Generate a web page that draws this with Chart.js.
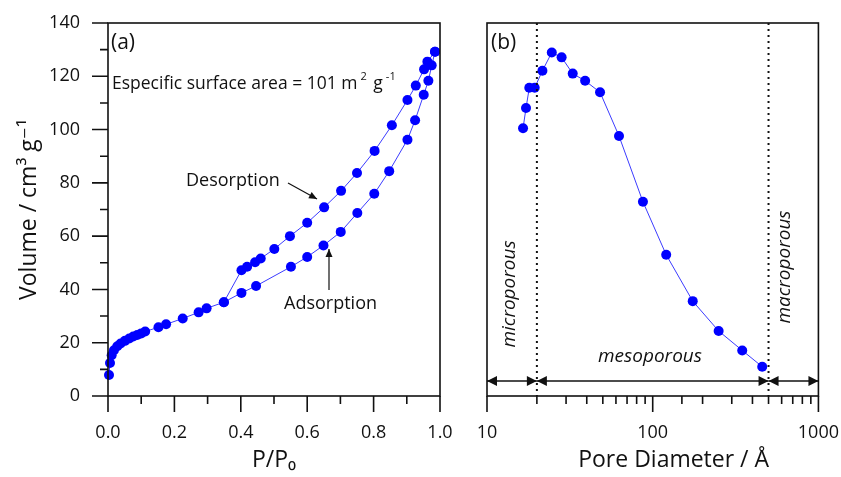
<!DOCTYPE html>
<html lang="en">
<head>
<meta charset="UTF-8">
<title>N2 isotherm and pore size distribution</title>
<script src="https://cdn.jsdelivr.net/npm/chart.js@4.4.0/dist/chart.umd.min.js"></script>
<style>
  html, body { margin: 0; padding: 0; background: #fff; }
  .wrap { position: relative; width: 841px; height: 477px; }
  #iso { position: absolute; left: 0; top: 0; }
  #pore { position: absolute; left: 460px; top: 0; }
</style>
</head>
<body>
<div class="wrap">
  <canvas id="iso" width="460" height="477"></canvas>
  <canvas id="pore" width="381" height="477"></canvas>
</div>
<script>
const FONT = "'Open Sans', 'DejaVu Sans', sans-serif";
const BLUE = '#0000ff';
const LINE = '#3b3bff';
const INK = '#111111';

// (a) isotherm, P/P0 vs volume
const adsP = [0.003, 0.006, 0.011, 0.018, 0.028, 0.038, 0.051, 0.064, 0.076, 0.088, 0.100, 0.112,
              0.152, 0.175, 0.225, 0.273, 0.297, 0.349, 0.402, 0.446, 0.551, 0.600, 0.649, 0.701,
              0.751, 0.802, 0.847, 0.902, 0.925, 0.951, 0.965, 0.975, 0.985];
const adsV = [7.9, 12.4, 15.3, 17.2, 18.7, 19.7, 20.7, 21.6, 22.3, 22.9, 23.5, 24.2,
              25.8, 26.9, 29.1, 31.4, 32.9, 35.2, 38.7, 41.3, 48.5, 52.2, 56.5, 61.6,
              68.7, 75.9, 84.4, 96.2, 103.5, 113.1, 118.3, 124.1, 129.2];
const desP = [0.985, 0.962, 0.952, 0.927, 0.902, 0.855, 0.803, 0.750, 0.702, 0.651, 0.600, 0.548,
              0.501, 0.460, 0.443, 0.419, 0.402, 0.349];
const desV = [129.2, 125.5, 122.6, 116.5, 111.1, 101.6, 92.0, 83.7, 77.0, 70.8, 65.0, 60.0,
              55.2, 51.6, 50.2, 48.5, 47.2, 35.2];
const isoXTicks = [0, 0.2, 0.4, 0.6, 0.8, 1.0];
const isoYTicks = [0, 20, 40, 60, 80, 100, 120, 140];

// (b) pore size distribution
const poreD = [16.5, 17.2, 18.0, 19.4, 21.6, 24.6, 28.2, 32.9, 39.1, 48.1, 62.6, 87.3,
               120.6, 174.4, 250, 347, 458];
const poreV = [100.5, 108.1, 115.7, 115.7, 122.1, 128.9, 127.1, 121.0, 118.3, 114.0, 97.6, 72.9,
               53.0, 35.6, 24.4, 17.1, 11.0];
const poreTicks = [10, 100, 1000];
const poreBounds = [10, 20, 500, 1000];

const near = (v, list) => list.some(t => Math.abs(t - v) < 1e-6);
const pts = (xs, ys) => xs.map((x, i) => ({x: x, y: ys[i]}));

function makeFrame(xMajor, yMajor) {
  return {
    id: 'frame',
    afterDraw(chart) {
      const {ctx, chartArea: a, scales} = chart;
      ctx.save();
      ctx.strokeStyle = INK;
      ctx.lineWidth = 1.6;
      ctx.strokeRect(a.left, a.top, a.right - a.left, a.bottom - a.top);
      ctx.beginPath();
      scales.x.ticks.forEach(t => {
        const px = scales.x.getPixelForValue(t.value);
        ctx.moveTo(px, a.bottom);
        ctx.lineTo(px, a.bottom + (xMajor(t.value) ? 16 : 8));
      });
      if (yMajor) {
        scales.y.ticks.forEach(t => {
          const py = scales.y.getPixelForValue(t.value);
          ctx.moveTo(a.left, py);
          ctx.lineTo(a.left - (yMajor(t.value) ? 16 : 8), py);
        });
      }
      ctx.stroke();
      ctx.restore();
    }
  };
}

function drawRich(ctx, parts, x, y, size) {
  parts.forEach(([t, sup]) => {
    ctx.font = (sup ? Math.round(size * 0.62) : size) + 'px ' + FONT;
    if (sup) x += 3;
    ctx.fillText(t, x, sup ? y - size * 0.42 : y);
    x += ctx.measureText(t).width + (sup ? 2 : 0);
  });
}

function arrowHead(ctx, x1, y1, x2, y2, len, half) {
  const ang = Math.atan2(y2 - y1, x2 - x1);
  ctx.beginPath();
  ctx.moveTo(x2, y2);
  ctx.lineTo(x2 - len * Math.cos(ang) + half * Math.sin(ang), y2 - len * Math.sin(ang) - half * Math.cos(ang));
  ctx.lineTo(x2 - len * Math.cos(ang) - half * Math.sin(ang), y2 - len * Math.sin(ang) + half * Math.cos(ang));
  ctx.closePath();
  ctx.fill();
}

function arrow(ctx, x1, y1, x2, y2) {
  ctx.beginPath();
  ctx.moveTo(x1, y1);
  ctx.lineTo(x2, y2);
  ctx.stroke();
  arrowHead(ctx, x1, y1, x2, y2, 8, 3.5);
}

const isoNotes = {
  id: 'isoNotes',
  afterDraw(chart) {
    const {ctx, chartArea: a} = chart;
    ctx.save();
    ctx.fillStyle = INK;
    ctx.strokeStyle = INK;
    ctx.lineWidth = 1.2;
    ctx.textBaseline = 'middle';
    ctx.font = '21px ' + FONT;
    ctx.fillText('(a)', a.left + 3, 43);
    drawRich(ctx, [['Especific surface area = 101 m', 0], ['2', 1], [' g', 0], ['-1', 1]], a.left + 4, 84, 17.5);
    ctx.font = '18px ' + FONT;
    ctx.fillText('Desorption', 186, 181);
    arrow(ctx, 288, 183, 317, 199);
    ctx.fillText('Adsorption', 284, 304);
    arrow(ctx, 329, 290, 329, 249);
    ctx.restore();
  }
};

const poreNotes = {
  id: 'poreNotes',
  afterDraw(chart) {
    const {ctx, chartArea: a, scales} = chart;
    const xs = scales.x;
    ctx.save();
    ctx.fillStyle = INK;
    ctx.strokeStyle = INK;
    ctx.textBaseline = 'middle';
    ctx.font = '21px ' + FONT;
    ctx.fillText('(b)', a.left + 4, 43);

    // dotted boundaries
    ctx.lineWidth = 2;
    ctx.setLineDash([2, 4]);
    [poreBounds[1], poreBounds[2]].forEach(d => {
      const px = xs.getPixelForValue(d);
      ctx.beginPath();
      ctx.moveTo(px, a.top);
      ctx.lineTo(px, a.bottom);
      ctx.stroke();
    });
    ctx.setLineDash([]);

    // range arrows
    const ay = a.bottom - 15;
    ctx.lineWidth = 1.5;
    for (let i = 0; i < poreBounds.length - 1; i++) {
      const x1 = xs.getPixelForValue(poreBounds[i]);
      const x2 = xs.getPixelForValue(poreBounds[i + 1]);
      ctx.beginPath();
      ctx.moveTo(x1, ay);
      ctx.lineTo(x2, ay);
      ctx.stroke();
      arrowHead(ctx, x2, ay, x1, ay, 10, 5);
      arrowHead(ctx, x1, ay, x2, ay, 10, 5);
    }

    ctx.font = 'italic 19px ' + FONT;
    ctx.textAlign = 'center';
    ctx.fillText('mesoporous', 190, 357);
    ctx.save();
    ctx.translate(50, 294);
    ctx.rotate(-Math.PI / 2);
    ctx.fillText('microporous', 0, 0);
    ctx.restore();
    ctx.save();
    ctx.translate(325, 267);
    ctx.rotate(-Math.PI / 2);
    ctx.fillText('macroporous', 0, 0);
    ctx.restore();
    ctx.restore();
  }
};

const series = (data) => ({
  data: data,
  showLine: true,
  borderColor: LINE,
  borderWidth: 1,
  pointRadius: 5,
  pointBackgroundColor: BLUE,
  pointBorderWidth: 0,
  clip: false
});

const tickFont = {family: FONT, size: 18};
const titleFont = {family: FONT, size: 23};
// invisible grid ticks only reserve room between axis and labels; the frame plugin draws the real ticks
const hiddenGrid = (len) => ({display: true, drawOnChartArea: false, drawTicks: true, tickLength: len, tickColor: 'rgba(0,0,0,0)'});

new Chart(document.getElementById('iso'), {
  type: 'scatter',
  data: { datasets: [series(pts(adsP, adsV)), series(pts(desP, desV))] },
  options: {
    responsive: false,
    animation: false,
    layout: { padding: {top: 23, right: 20, left: 0, bottom: 0} },
    plugins: { legend: {display: false}, tooltip: {enabled: false} },
    scales: {
      x: {
        type: 'linear', min: 0, max: 1,
        afterFit: s => { s.height = 81; },
        grid: hiddenGrid(24),
        border: {display: false},
        ticks: {
          stepSize: 0.1, autoSkip: false, maxRotation: 0, padding: 2,
          color: INK, font: tickFont,
          callback: v => near(v, isoXTicks) ? v.toFixed(1) : ''
        },
        title: {display: true, text: 'P/P₀', color: INK, font: titleFont, padding: {top: 0, bottom: 3}}
      },
      y: {
        min: 0, max: 140,
        afterFit: s => { s.width = 108; },
        grid: hiddenGrid(25),
        border: {display: false},
        ticks: {
          stepSize: 10, autoSkip: false, padding: 3,
          color: INK, font: tickFont,
          callback: v => near(v, isoYTicks) ? String(v) : ''
        },
        title: {display: true, text: 'Volume / cm³ g⁻¹', color: INK, font: titleFont, padding: {top: 16, bottom: 0}}
      }
    }
  },
  plugins: [makeFrame(v => near(v, isoXTicks), v => near(v, isoYTicks)), isoNotes]
});

new Chart(document.getElementById('pore'), {
  type: 'scatter',
  data: { datasets: [series(pts(poreD, poreV))] },
  options: {
    responsive: false,
    animation: false,
    layout: { padding: {top: 23, right: 22, left: 27, bottom: 0} },
    plugins: { legend: {display: false}, tooltip: {enabled: false} },
    scales: {
      x: {
        type: 'logarithmic', min: 10, max: 1000,
        afterFit: s => { s.height = 81; },
        grid: hiddenGrid(24),
        border: {display: false},
        ticks: {
          autoSkip: false, maxRotation: 0, padding: 2,
          color: INK, font: tickFont,
          callback: v => near(v, poreTicks) ? String(v) : ''
        },
        // leading spaces nudge the centred title right, as in the original
        title: {display: true, text: '       Pore Diameter / Å', color: INK, font: titleFont, padding: {top: 0, bottom: 3}}
      },
      y: { display: false, min: 0, max: 140 }
    }
  },
  plugins: [makeFrame(v => near(v, poreTicks), null), poreNotes]
});
</script>
</body>
</html>
